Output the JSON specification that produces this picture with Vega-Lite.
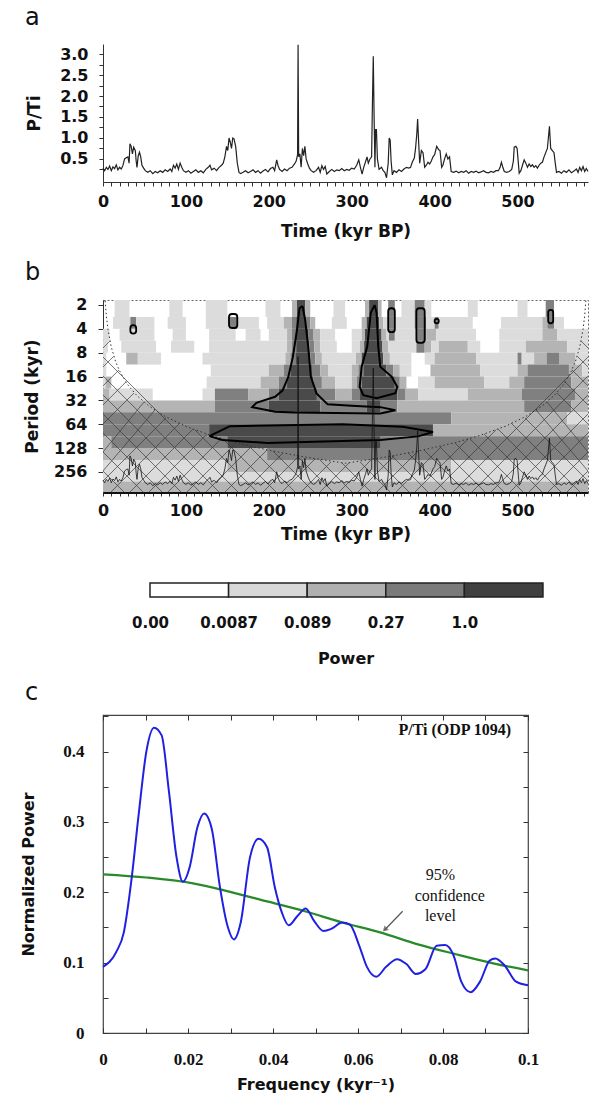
{
"$schema": "https://vega.github.io/schema/vega-lite/v6.json",
"background": "white",
"padding": {"left": 20, "top": 6, "right": 0, "bottom": 0},
"spacing": 14,
"config": {
  "view": {"stroke": null},
  "font": "DejaVu Sans",
  "axis": {"labelFont": "DejaVu Sans", "labelFontWeight": "bold", "titleFont": "DejaVu Sans", "titleFontWeight": "bold", "labelColor": "#111", "titleColor": "#111", "domainColor": "#333", "tickColor": "#333", "grid": false, "labelOverlap": false, "labelFlush": false},
  "title": {"anchor": "start", "frame": "group", "fontWeight": "normal", "fontSize": 24, "font": "DejaVu Sans", "dx": -78, "color": "#111"}
},
"datasets": {
  "pti": [
    {"t":0,"v":0.28},{"t":2,"v":0.22},{"t":4,"v":0.30},{"t":6,"v":0.25},{"t":8,"v":0.33},{"t":10,"v":0.22},{"t":12,"v":0.31},{"t":14,"v":0.27},{"t":16,"v":0.36},{"t":18,"v":0.24},{"t":20,"v":0.30},{"t":22,"v":0.26},{"t":24,"v":0.34},{"t":26,"v":0.50},{"t":28,"v":0.53},{"t":30,"v":0.55},{"t":31.5,"v":0.40},{"t":32.5,"v":0.86},{"t":34,"v":0.80},{"t":35.5,"v":0.62},{"t":37,"v":0.78},{"t":39,"v":0.70},{"t":40,"v":0.45},{"t":41,"v":0.30},{"t":42.5,"v":0.58},{"t":44,"v":0.66},{"t":45.5,"v":0.55},{"t":47,"v":0.35},{"t":49,"v":0.28},{"t":51,"v":0.22},{"t":54,"v":0.18},{"t":57,"v":0.22},{"t":60,"v":0.15},{"t":63,"v":0.20},{"t":66,"v":0.17},{"t":69,"v":0.22},{"t":72,"v":0.18},{"t":75,"v":0.24},{"t":78,"v":0.20},{"t":81,"v":0.26},{"t":83,"v":0.20},{"t":85,"v":0.35},{"t":87,"v":0.28},{"t":89,"v":0.38},{"t":91,"v":0.25},{"t":93,"v":0.40},{"t":95,"v":0.30},{"t":97,"v":0.22},{"t":100,"v":0.18},{"t":103,"v":0.22},{"t":106,"v":0.16},{"t":109,"v":0.20},{"t":112,"v":0.24},{"t":115,"v":0.18},{"t":118,"v":0.22},{"t":121,"v":0.17},{"t":124,"v":0.25},{"t":127,"v":0.30},{"t":129,"v":0.35},{"t":131,"v":0.24},{"t":134,"v":0.28},{"t":137,"v":0.22},{"t":140,"v":0.30},{"t":143,"v":0.35},{"t":145,"v":0.40},{"t":147,"v":0.55},{"t":149,"v":0.80},{"t":150.5,"v":0.70},{"t":152,"v":1.00},{"t":153.5,"v":0.90},{"t":155,"v":0.75},{"t":156.5,"v":1.00},{"t":158,"v":0.98},{"t":160,"v":0.80},{"t":162,"v":0.40},{"t":164,"v":0.18},{"t":166,"v":0.15},{"t":169,"v":0.18},{"t":172,"v":0.22},{"t":175,"v":0.17},{"t":178,"v":0.20},{"t":181,"v":0.24},{"t":184,"v":0.18},{"t":187,"v":0.22},{"t":190,"v":0.16},{"t":193,"v":0.21},{"t":196,"v":0.25},{"t":199,"v":0.19},{"t":202,"v":0.27},{"t":205,"v":0.30},{"t":207,"v":0.22},{"t":209.5,"v":0.48},{"t":211,"v":0.35},{"t":213,"v":0.25},{"t":216,"v":0.20},{"t":219,"v":0.26},{"t":222,"v":0.22},{"t":225,"v":0.28},{"t":228,"v":0.30},{"t":231,"v":0.38},{"t":233,"v":0.45},{"t":234.7,"v":0.60},{"t":235.3,"v":3.22},{"t":236,"v":0.55},{"t":237.5,"v":0.62},{"t":239,"v":0.30},{"t":240.5,"v":0.75},{"t":242,"v":0.58},{"t":243.5,"v":0.80},{"t":245,"v":0.50},{"t":247,"v":0.38},{"t":249,"v":0.28},{"t":251,"v":0.22},{"t":254,"v":0.18},{"t":257,"v":0.22},{"t":260,"v":0.30},{"t":262,"v":0.18},{"t":264,"v":0.34},{"t":266,"v":0.25},{"t":268,"v":0.32},{"t":270,"v":0.14},{"t":273,"v":0.20},{"t":276,"v":0.25},{"t":279,"v":0.20},{"t":282,"v":0.24},{"t":285,"v":0.22},{"t":288,"v":0.27},{"t":291,"v":0.22},{"t":294,"v":0.25},{"t":297,"v":0.23},{"t":300,"v":0.28},{"t":303,"v":0.26},{"t":306,"v":0.35},{"t":308.5,"v":0.48},{"t":310.5,"v":0.30},{"t":312.5,"v":0.14},{"t":314.5,"v":0.30},{"t":316.5,"v":0.42},{"t":318.5,"v":0.55},{"t":320,"v":0.40},{"t":322,"v":0.50},{"t":324,"v":0.55},{"t":325,"v":1.85},{"t":326,"v":2.95},{"t":327,"v":1.50},{"t":328,"v":0.30},{"t":328.8,"v":1.20},{"t":329.8,"v":1.20},{"t":331,"v":0.50},{"t":333,"v":0.25},{"t":336,"v":0.30},{"t":338,"v":0.22},{"t":340,"v":0.18},{"t":342,"v":0.05},{"t":344,"v":0.40},{"t":345.2,"v":1.00},{"t":346.4,"v":0.95},{"t":347.5,"v":0.45},{"t":349,"v":0.12},{"t":351,"v":0.22},{"t":354,"v":0.18},{"t":357,"v":0.24},{"t":360,"v":0.20},{"t":363,"v":0.26},{"t":366,"v":0.30},{"t":369,"v":0.28},{"t":371,"v":0.30},{"t":373,"v":0.42},{"t":375.5,"v":0.52},{"t":377,"v":0.75},{"t":378.5,"v":1.10},{"t":379.5,"v":1.45},{"t":380.5,"v":1.00},{"t":382,"v":0.40},{"t":384,"v":0.70},{"t":386,"v":0.65},{"t":388,"v":0.30},{"t":390,"v":0.35},{"t":392,"v":0.42},{"t":394,"v":0.38},{"t":396,"v":0.45},{"t":398,"v":0.55},{"t":400,"v":0.60},{"t":402.5,"v":0.80},{"t":405,"v":0.72},{"t":406.5,"v":0.70},{"t":408.5,"v":0.30},{"t":410,"v":0.35},{"t":412,"v":0.50},{"t":414,"v":0.62},{"t":416,"v":0.50},{"t":418,"v":0.55},{"t":420,"v":0.20},{"t":423,"v":0.18},{"t":426,"v":0.21},{"t":429,"v":0.17},{"t":432,"v":0.20},{"t":435,"v":0.18},{"t":438,"v":0.22},{"t":441,"v":0.16},{"t":444,"v":0.20},{"t":447,"v":0.18},{"t":450,"v":0.21},{"t":453,"v":0.17},{"t":456,"v":0.19},{"t":459,"v":0.22},{"t":462,"v":0.18},{"t":465,"v":0.17},{"t":468,"v":0.20},{"t":471,"v":0.18},{"t":474,"v":0.22},{"t":477,"v":0.22},{"t":479,"v":0.30},{"t":480.5,"v":0.42},{"t":482,"v":0.32},{"t":484,"v":0.20},{"t":487,"v":0.18},{"t":490,"v":0.20},{"t":493,"v":0.25},{"t":495,"v":0.45},{"t":496,"v":0.78},{"t":498,"v":0.80},{"t":499.5,"v":0.75},{"t":501,"v":0.40},{"t":502,"v":0.16},{"t":504,"v":0.22},{"t":506,"v":0.35},{"t":508,"v":0.48},{"t":510,"v":0.40},{"t":512,"v":0.30},{"t":514,"v":0.38},{"t":516,"v":0.32},{"t":518,"v":0.36},{"t":520,"v":0.30},{"t":522,"v":0.34},{"t":524,"v":0.28},{"t":526,"v":0.35},{"t":528,"v":0.40},{"t":530,"v":0.42},{"t":532,"v":0.55},{"t":534,"v":0.65},{"t":536,"v":0.75},{"t":538.5,"v":1.28},{"t":540,"v":0.75},{"t":542,"v":0.70},{"t":544,"v":0.65},{"t":545.5,"v":0.40},{"t":547,"v":0.18},{"t":550,"v":0.20},{"t":553,"v":0.16},{"t":556,"v":0.22},{"t":559,"v":0.18},{"t":562,"v":0.24},{"t":565,"v":0.17},{"t":568,"v":0.21},{"t":571,"v":0.26},{"t":573,"v":0.18},{"t":575,"v":0.30},{"t":577,"v":0.22},{"t":579,"v":0.32},{"t":581,"v":0.20},{"t":583,"v":0.27},{"t":585,"v":0.20}
  ],
  "rows": [
    {"r":1,"p0":1.73,"p1":2.83},{"r":2,"p0":2.83,"p1":4},{"r":3,"p0":4,"p1":5.66},{"r":4,"p0":5.66,"p1":8},{"r":5,"p0":8,"p1":11.31},{"r":6,"p0":11.31,"p1":16},{"r":7,"p0":16,"p1":22.63},{"r":8,"p0":22.63,"p1":32},{"r":9,"p0":32,"p1":45.25},{"r":10,"p0":45.25,"p1":64},{"r":11,"p0":64,"p1":90.5},{"r":12,"p0":90.5,"p1":128},{"r":13,"p0":128,"p1":181},{"r":14,"p0":181,"p1":256},{"r":15,"p0":256,"p1":338},{"r":16,"p0":338,"p1":458}
  ],
  "segs": [
    {"r":1,"a":14,"b":32,"l":1},{"r":1,"a":80,"b":96,"l":1},{"r":1,"a":124,"b":150,"l":1},{"r":1,"a":196,"b":214,"l":1},{"r":1,"a":228,"b":234,"l":2},{"r":1,"a":234,"b":244,"l":4},{"r":1,"a":244,"b":250,"l":2},{"r":1,"a":278,"b":292,"l":1},{"r":1,"a":316,"b":321,"l":2},{"r":1,"a":321,"b":332,"l":4},{"r":1,"a":332,"b":336,"l":2},{"r":1,"a":344,"b":352,"l":3},{"r":1,"a":360,"b":376,"l":1},{"r":1,"a":376,"b":388,"l":3},{"r":1,"a":388,"b":396,"l":1},{"r":1,"a":440,"b":452,"l":1},{"r":1,"a":500,"b":512,"l":1},{"r":1,"a":534,"b":544,"l":3},
    {"r":2,"a":12,"b":33,"l":1},{"r":2,"a":33,"b":40,"l":3},{"r":2,"a":40,"b":62,"l":1},{"r":2,"a":78,"b":100,"l":1},{"r":2,"a":124,"b":152,"l":1},{"r":2,"a":152,"b":162,"l":3},{"r":2,"a":162,"b":188,"l":1},{"r":2,"a":198,"b":218,"l":1},{"r":2,"a":218,"b":228,"l":2},{"r":2,"a":228,"b":233,"l":3},{"r":2,"a":233,"b":245,"l":4},{"r":2,"a":245,"b":250,"l":3},{"r":2,"a":250,"b":256,"l":2},{"r":2,"a":276,"b":294,"l":1},{"r":2,"a":312,"b":318,"l":2},{"r":2,"a":318,"b":333,"l":4},{"r":2,"a":333,"b":338,"l":2},{"r":2,"a":338,"b":344,"l":1},{"r":2,"a":344,"b":352,"l":3},{"r":2,"a":352,"b":376,"l":1},{"r":2,"a":376,"b":390,"l":3},{"r":2,"a":390,"b":400,"l":1},{"r":2,"a":400,"b":405,"l":3},{"r":2,"a":405,"b":446,"l":1},{"r":2,"a":480,"b":530,"l":1},{"r":2,"a":530,"b":536,"l":2},{"r":2,"a":536,"b":544,"l":3},{"r":2,"a":544,"b":556,"l":1},
    {"r":3,"a":0,"b":8,"l":1},{"r":3,"a":20,"b":62,"l":1},{"r":3,"a":84,"b":100,"l":1},{"r":3,"a":128,"b":160,"l":1},{"r":3,"a":172,"b":190,"l":1},{"r":3,"a":200,"b":222,"l":1},{"r":3,"a":222,"b":228,"l":2},{"r":3,"a":228,"b":232,"l":3},{"r":3,"a":232,"b":248,"l":4},{"r":3,"a":248,"b":254,"l":3},{"r":3,"a":254,"b":262,"l":2},{"r":3,"a":262,"b":280,"l":1},{"r":3,"a":300,"b":312,"l":1},{"r":3,"a":312,"b":316,"l":2},{"r":3,"a":316,"b":336,"l":4},{"r":3,"a":336,"b":342,"l":2},{"r":3,"a":342,"b":345,"l":1},{"r":3,"a":345,"b":352,"l":3},{"r":3,"a":352,"b":378,"l":1},{"r":3,"a":378,"b":390,"l":3},{"r":3,"a":390,"b":402,"l":2},{"r":3,"a":402,"b":450,"l":1},{"r":3,"a":478,"b":530,"l":1},{"r":3,"a":530,"b":548,"l":2},{"r":3,"a":548,"b":585,"l":1},
    {"r":4,"a":0,"b":6,"l":1},{"r":4,"a":22,"b":64,"l":1},{"r":4,"a":82,"b":110,"l":1},{"r":4,"a":128,"b":222,"l":1},{"r":4,"a":222,"b":228,"l":2},{"r":4,"a":228,"b":233,"l":3},{"r":4,"a":233,"b":249,"l":4},{"r":4,"a":249,"b":255,"l":3},{"r":4,"a":255,"b":262,"l":2},{"r":4,"a":262,"b":282,"l":1},{"r":4,"a":300,"b":310,"l":1},{"r":4,"a":310,"b":315,"l":2},{"r":4,"a":315,"b":337,"l":4},{"r":4,"a":337,"b":344,"l":2},{"r":4,"a":344,"b":378,"l":1},{"r":4,"a":378,"b":388,"l":3},{"r":4,"a":388,"b":396,"l":2},{"r":4,"a":396,"b":405,"l":1},{"r":4,"a":405,"b":440,"l":2},{"r":4,"a":440,"b":455,"l":1},{"r":4,"a":478,"b":510,"l":1},{"r":4,"a":510,"b":560,"l":2},{"r":4,"a":560,"b":585,"l":1},
    {"r":5,"a":0,"b":4,"l":1},{"r":5,"a":28,"b":42,"l":2},{"r":5,"a":42,"b":70,"l":1},{"r":5,"a":120,"b":220,"l":1},{"r":5,"a":220,"b":226,"l":2},{"r":5,"a":226,"b":232,"l":3},{"r":5,"a":232,"b":250,"l":4},{"r":5,"a":250,"b":256,"l":3},{"r":5,"a":256,"b":264,"l":2},{"r":5,"a":264,"b":305,"l":1},{"r":5,"a":305,"b":312,"l":2},{"r":5,"a":312,"b":338,"l":4},{"r":5,"a":338,"b":346,"l":2},{"r":5,"a":346,"b":372,"l":1},{"r":5,"a":388,"b":400,"l":1},{"r":5,"a":400,"b":450,"l":2},{"r":5,"a":450,"b":500,"l":1},{"r":5,"a":500,"b":505,"l":3},{"r":5,"a":505,"b":520,"l":1},{"r":5,"a":520,"b":535,"l":2},{"r":5,"a":535,"b":550,"l":3},{"r":5,"a":550,"b":570,"l":2},{"r":5,"a":570,"b":585,"l":1},
    {"r":6,"a":0,"b":4,"l":1},{"r":6,"a":130,"b":200,"l":1},{"r":6,"a":200,"b":218,"l":2},{"r":6,"a":218,"b":226,"l":3},{"r":6,"a":226,"b":252,"l":4},{"r":6,"a":252,"b":262,"l":3},{"r":6,"a":262,"b":272,"l":2},{"r":6,"a":272,"b":300,"l":1},{"r":6,"a":300,"b":308,"l":2},{"r":6,"a":308,"b":314,"l":3},{"r":6,"a":314,"b":342,"l":4},{"r":6,"a":342,"b":350,"l":3},{"r":6,"a":350,"b":358,"l":2},{"r":6,"a":358,"b":372,"l":1},{"r":6,"a":395,"b":455,"l":2},{"r":6,"a":455,"b":500,"l":1},{"r":6,"a":500,"b":512,"l":2},{"r":6,"a":512,"b":562,"l":3},{"r":6,"a":562,"b":578,"l":2},{"r":6,"a":578,"b":585,"l":1},
    {"r":7,"a":0,"b":3,"l":1},{"r":7,"a":3,"b":10,"l":2},{"r":7,"a":125,"b":190,"l":1},{"r":7,"a":190,"b":212,"l":2},{"r":7,"a":212,"b":222,"l":3},{"r":7,"a":222,"b":254,"l":4},{"r":7,"a":254,"b":264,"l":3},{"r":7,"a":264,"b":280,"l":2},{"r":7,"a":280,"b":300,"l":1},{"r":7,"a":300,"b":306,"l":2},{"r":7,"a":306,"b":312,"l":3},{"r":7,"a":312,"b":352,"l":4},{"r":7,"a":352,"b":358,"l":3},{"r":7,"a":358,"b":366,"l":2},{"r":7,"a":380,"b":400,"l":1},{"r":7,"a":400,"b":460,"l":2},{"r":7,"a":460,"b":490,"l":1},{"r":7,"a":490,"b":508,"l":2},{"r":7,"a":508,"b":565,"l":3},{"r":7,"a":565,"b":585,"l":2},
    {"r":8,"a":0,"b":8,"l":2},{"r":8,"a":8,"b":60,"l":1},{"r":8,"a":120,"b":135,"l":1},{"r":8,"a":135,"b":175,"l":3},{"r":8,"a":175,"b":200,"l":2},{"r":8,"a":200,"b":212,"l":3},{"r":8,"a":212,"b":258,"l":4},{"r":8,"a":258,"b":280,"l":3},{"r":8,"a":280,"b":300,"l":2},{"r":8,"a":300,"b":310,"l":3},{"r":8,"a":310,"b":355,"l":4},{"r":8,"a":355,"b":365,"l":3},{"r":8,"a":365,"b":380,"l":2},{"r":8,"a":380,"b":440,"l":1},{"r":8,"a":440,"b":505,"l":2},{"r":8,"a":505,"b":570,"l":3},{"r":8,"a":570,"b":585,"l":2},
    {"r":9,"a":0,"b":135,"l":2},{"r":9,"a":135,"b":200,"l":3},{"r":9,"a":200,"b":262,"l":4},{"r":9,"a":262,"b":318,"l":3},{"r":9,"a":318,"b":335,"l":4},{"r":9,"a":335,"b":355,"l":3},{"r":9,"a":355,"b":508,"l":2},{"r":9,"a":508,"b":565,"l":3},{"r":9,"a":565,"b":585,"l":2},
    {"r":10,"a":0,"b":420,"l":3},{"r":10,"a":420,"b":560,"l":2},{"r":10,"a":560,"b":585,"l":1},
    {"r":11,"a":0,"b":128,"l":3},{"r":11,"a":128,"b":398,"l":4},{"r":11,"a":398,"b":585,"l":2},
    {"r":12,"a":0,"b":10,"l":2},{"r":12,"a":10,"b":150,"l":3},{"r":12,"a":150,"b":335,"l":4},{"r":12,"a":335,"b":585,"l":3},
    {"r":13,"a":0,"b":198,"l":2},{"r":13,"a":198,"b":585,"l":3},
    {"r":14,"a":0,"b":150,"l":1},{"r":14,"a":150,"b":420,"l":2},{"r":14,"a":420,"b":585,"l":1},
    {"r":15,"a":0,"b":585,"l":1},
    {"r":16,"a":0,"b":585,"l":2}
  ],
  "hatch": [
    {"t1":0,"p1":248.6,"t2":25.3,"p2":457.6},{"t1":0,"p1":143.2,"t2":48.2,"p2":457.6},{"t1":0,"p1":82.4,"t2":71.2,"p2":457.6},{"t1":0,"p1":47.5,"t2":94.1,"p2":457.6},{"t1":0,"p1":27.3,"t2":117,"p2":457.6},{"t1":0,"p1":15.7,"t2":139.9,"p2":457.6},{"t1":0,"p1":9.06,"t2":162.8,"p2":457.6},{"t1":111,"p1":75.5,"t2":185.8,"p2":457.6},{"t1":144.7,"p1":98.1,"t2":208.7,"p2":457.6},{"t1":176.1,"p1":120.3,"t2":231.6,"p2":457.6},{"t1":205,"p1":139.1,"t2":254.5,"p2":457.6},{"t1":233.4,"p1":158.4,"t2":277.4,"p2":457.6},{"t1":261.7,"p1":180.6,"t2":300.3,"p2":457.6},{"t1":288.3,"p1":197.1,"t2":323.3,"p2":457.6},{"t1":310,"p1":191.3,"t2":346.2,"p2":457.6},{"t1":329.3,"p1":175.4,"t2":369.1,"p2":457.6},{"t1":348.6,"p1":160.8,"t2":392,"p2":457.6},{"t1":367.9,"p1":147.3,"t2":414.9,"p2":457.6},{"t1":387.2,"p1":135.1,"t2":437.8,"p2":457.6},{"t1":406.5,"p1":123.8,"t2":460.8,"p2":457.6},{"t1":424.6,"p1":110.2,"t2":483.7,"p2":457.6},{"t1":442.7,"p1":98.1,"t2":506.6,"p2":457.6},{"t1":459.6,"p1":84.9,"t2":529.5,"p2":457.6},{"t1":476.4,"p1":73.4,"t2":552.4,"p2":457.6},{"t1":492.1,"p1":61.6,"t2":575.4,"p2":457.6},{"t1":509,"p1":53.3,"t2":585,"p2":332.5},{"t1":522.3,"p1":42.2,"t2":585,"p2":248.6},{"t1":535.5,"p1":33.5,"t2":585,"p2":143.2},{"t1":547.6,"p1":25.8,"t2":585,"p2":63.5},{"t1":557.3,"p1":18.7,"t2":585,"p2":36.5},{"t1":565.7,"p1":13.2,"t2":585,"p2":21.0},{"t1":572.3,"p1":8.93,"t2":585,"p2":12.1},{"t1":576.6,"p1":5.69,"t2":585,"p2":6.98},
    {"t1":585,"p1":248.6,"t2":559.7,"p2":457.6},{"t1":585,"p1":143.2,"t2":536.8,"p2":457.6},{"t1":585,"p1":82.4,"t2":513.8,"p2":457.6},{"t1":585,"p1":47.5,"t2":490.9,"p2":457.6},{"t1":585,"p1":27.3,"t2":468,"p2":457.6},{"t1":585,"p1":15.7,"t2":445.1,"p2":457.6},{"t1":585,"p1":9.06,"t2":422.2,"p2":457.6},{"t1":474,"p1":75.5,"t2":399.2,"p2":457.6},{"t1":440.3,"p1":98.1,"t2":376.3,"p2":457.6},{"t1":408.9,"p1":120.3,"t2":353.4,"p2":457.6},{"t1":380,"p1":139.1,"t2":330.5,"p2":457.6},{"t1":351.6,"p1":158.4,"t2":307.6,"p2":457.6},{"t1":323.3,"p1":180.6,"t2":284.7,"p2":457.6},{"t1":296.7,"p1":197.1,"t2":261.7,"p2":457.6},{"t1":275,"p1":191.3,"t2":238.8,"p2":457.6},{"t1":255.7,"p1":175.4,"t2":215.9,"p2":457.6},{"t1":236.4,"p1":160.8,"t2":193,"p2":457.6},{"t1":217.1,"p1":147.3,"t2":170.1,"p2":457.6},{"t1":197.8,"p1":135.1,"t2":147.2,"p2":457.6},{"t1":178.5,"p1":123.8,"t2":124.2,"p2":457.6},{"t1":160.4,"p1":110.2,"t2":101.3,"p2":457.6},{"t1":142.3,"p1":98.1,"t2":78.4,"p2":457.6},{"t1":125.4,"p1":84.9,"t2":55.5,"p2":457.6},{"t1":108.6,"p1":73.4,"t2":32.6,"p2":457.6},{"t1":92.9,"p1":61.6,"t2":9.6,"p2":457.6},{"t1":76,"p1":53.3,"t2":0,"p2":332.5},{"t1":62.7,"p1":42.2,"t2":0,"p2":248.6},{"t1":49.5,"p1":33.5,"t2":0,"p2":143.2},{"t1":37.4,"p1":25.8,"t2":0,"p2":63.5},{"t1":27.7,"p1":18.7,"t2":0,"p2":36.5},{"t1":19.3,"p1":13.2,"t2":0,"p2":21.0},{"t1":12.7,"p1":8.93,"t2":0,"p2":12.1},{"t1":8.4,"p1":5.69,"t2":0,"p2":6.98}
  ],
  "coi": [
    {"t":2.6,"p":1.77},{"t":4,"p":2.72},{"t":6,"p":4.08},{"t":10,"p":6.8},{"t":15,"p":10.2},{"t":20,"p":13.6},{"t":30,"p":20.4},{"t":40,"p":27.2},{"t":55,"p":37.4},{"t":75,"p":51},{"t":100,"p":68},{"t":130,"p":88.4},{"t":160,"p":108.8},{"t":200,"p":136},{"t":240,"p":163.2},{"t":292.5,"p":198.9},{"t":345,"p":163.2},{"t":385,"p":136},{"t":425,"p":108.8},{"t":455,"p":88.4},{"t":485,"p":68},{"t":510,"p":51},{"t":530,"p":37.4},{"t":545,"p":27.2},{"t":555,"p":20.4},{"t":565,"p":13.6},{"t":570,"p":10.2},{"t":575,"p":6.8},{"t":579,"p":4.08},{"t":581,"p":2.72},{"t":582.4,"p":1.77}
  ],
  "cont": [
    {"id":1,"o":1,"t":240.7,"p":2.06},{"id":1,"o":2,"t":243.9,"p":3.1},{"id":1,"o":3,"t":247.5,"p":6.7},{"id":1,"o":4,"t":250.7,"p":16.1},{"id":1,"o":5,"t":257.5,"p":26.1},{"id":1,"o":6,"t":271,"p":35.9},{"id":1,"o":7,"t":300,"p":37.5},{"id":1,"o":8,"t":334.5,"p":38.9},{"id":1,"o":9,"t":352.7,"p":42.5},{"id":1,"o":10,"t":334.5,"p":46.8},{"id":1,"o":11,"t":280,"p":46},{"id":1,"o":12,"t":230,"p":45.5},{"id":1,"o":13,"t":207.6,"p":44.6},{"id":1,"o":14,"t":180,"p":38.9},{"id":1,"o":15,"t":185,"p":34.4},{"id":1,"o":16,"t":207.6,"p":28.8},{"id":1,"o":17,"t":216.7,"p":23.9},{"id":1,"o":18,"t":223.5,"p":16.1},{"id":1,"o":19,"t":229,"p":9.1},{"id":1,"o":20,"t":234,"p":4.1},{"id":1,"o":21,"t":237,"p":2.2},{"id":1,"o":22,"t":240.7,"p":2.06},
    {"id":2,"o":1,"t":327.7,"p":2.0},{"id":2,"o":2,"t":330,"p":2.5},{"id":2,"o":3,"t":332,"p":6.7},{"id":2,"o":4,"t":334.5,"p":12},{"id":2,"o":5,"t":348,"p":16},{"id":2,"o":6,"t":355,"p":21.6},{"id":2,"o":7,"t":352.7,"p":26},{"id":2,"o":8,"t":330,"p":30},{"id":2,"o":9,"t":314,"p":27.5},{"id":2,"o":10,"t":309.6,"p":21.6},{"id":2,"o":11,"t":312,"p":12},{"id":2,"o":12,"t":318.7,"p":6.7},{"id":2,"o":13,"t":323,"p":2.5},{"id":2,"o":14,"t":327.7,"p":2.0},
    {"id":3,"o":1,"t":128.3,"p":90.4},{"id":3,"o":2,"t":153,"p":67.7},{"id":3,"o":3,"t":289,"p":64},{"id":3,"o":4,"t":361.7,"p":69},{"id":3,"o":5,"t":398,"p":80},{"id":3,"o":6,"t":380,"p":91},{"id":3,"o":7,"t":334.5,"p":101},{"id":3,"o":8,"t":198.5,"p":110},{"id":3,"o":9,"t":144,"p":101},{"id":3,"o":10,"t":128.3,"p":90.4}
  ],
  "spec": [
    {"f":0,"v":0.094},{"f":0.0031,"v":0.115},{"f":0.0049,"v":0.143},{"f":0.0067,"v":0.218},{"f":0.0084,"v":0.311},{"f":0.0102,"v":0.40},{"f":0.012,"v":0.434},{"f":0.0138,"v":0.423},{"f":0.0155,"v":0.344},{"f":0.0173,"v":0.25},{"f":0.0188,"v":0.215},{"f":0.0204,"v":0.236},{"f":0.0222,"v":0.292},{"f":0.0238,"v":0.312},{"f":0.0256,"v":0.29},{"f":0.0275,"v":0.208},{"f":0.0293,"v":0.152},{"f":0.0308,"v":0.133},{"f":0.0324,"v":0.157},{"f":0.0346,"v":0.25},{"f":0.0366,"v":0.276},{"f":0.0386,"v":0.264},{"f":0.0404,"v":0.208},{"f":0.0421,"v":0.171},{"f":0.0437,"v":0.153},{"f":0.0457,"v":0.166},{"f":0.0477,"v":0.177},{"f":0.0497,"v":0.159},{"f":0.0519,"v":0.145},{"f":0.0537,"v":0.148},{"f":0.0563,"v":0.157},{"f":0.0581,"v":0.154},{"f":0.0603,"v":0.124},{"f":0.0621,"v":0.094},{"f":0.0643,"v":0.080},{"f":0.0666,"v":0.094},{"f":0.0692,"v":0.105},{"f":0.0714,"v":0.098},{"f":0.0736,"v":0.084},{"f":0.0759,"v":0.091},{"f":0.0785,"v":0.124},{"f":0.0805,"v":0.125},{"f":0.0825,"v":0.11},{"f":0.0843,"v":0.073},{"f":0.0865,"v":0.058},{"f":0.0887,"v":0.073},{"f":0.091,"v":0.103},{"f":0.0923,"v":0.106},{"f":0.0945,"v":0.096},{"f":0.0972,"v":0.073},{"f":0.1,"v":0.068}
  ],
  "conf": [
    {"f":0,"v":0.2255},{"f":0.0102,"v":0.221},{"f":0.0209,"v":0.213},{"f":0.0297,"v":0.201},{"f":0.0386,"v":0.187},{"f":0.0475,"v":0.173},{"f":0.0563,"v":0.157},{"f":0.0652,"v":0.143},{"f":0.0741,"v":0.126},{"f":0.083,"v":0.112},{"f":0.0918,"v":0.099},{"f":0.1,"v":0.089}
  ]
},
"vconcat": [
  {
    "width": 485, "height": 138,
    "title": {"text": "a", "offset": 12},
    "data": {"name": "pti"},
    "mark": {"type": "line", "color": "#222", "strokeWidth": 1.2},
    "encoding": {
      "x": {"field": "t", "type": "quantitative", "scale": {"domain": [0, 585], "nice": false, "zero": false},
        "axis": {"values": [0,10,20,30,40,50,60,70,80,90,100,110,120,130,140,150,160,170,180,190,200,210,220,230,240,250,260,270,280,290,300,310,320,330,340,350,360,370,380,390,400,410,420,430,440,450,460,470,480,490,500,510,520,530,540,550,560,570,580], "labelExpr": "datum.value % 100 == 0 ? datum.label : ''", "title": "Time (kyr BP)", "tickSize": 4, "labelPadding": 7, "titlePadding": 14, "labelFontSize": 16, "titleFontSize": 17}},
      "y": {"field": "v", "type": "quantitative", "scale": {"domain": [-0.05, 3.24], "nice": false, "zero": false},
        "axis": {"values": [0.25,0.5,0.75,1,1.25,1.5,1.75,2,2.25,2.5,2.75,3], "format": ".1f", "labelExpr": "round(datum.value*4) % 2 == 0 ? datum.label : ''", "title": "P/Ti", "tickSize": 4, "labelPadding": 11, "titlePadding": 16, "labelFontSize": 16, "titleFontSize": 17}}
    }
  },
  {
    "width": 485, "height": 192,
    "title": {"text": ["", "b"], "offset": 12, "lineHeight": 7},
    "view": {"stroke": "#666", "strokeDash": [2, 2]},
    "layer": [
      {
        "data": {"name": "segs"},
        "transform": [{"lookup": "r", "from": {"data": {"name": "rows"}, "key": "r", "fields": ["p0", "p1"]}}],
        "mark": {"type": "rect"},
        "encoding": {
          "x": {"field": "a", "type": "quantitative", "scale": {"domain": [0, 585], "nice": false, "zero": false},
            "axis": {"title": "Time (kyr BP)", "values": [0,10,20,30,40,50,60,70,80,90,100,110,120,130,140,150,160,170,180,190,200,210,220,230,240,250,260,270,280,290,300,310,320,330,340,350,360,370,380,390,400,410,420,430,440,450,460,470,480,490,500,510,520,530,540,550,560,570,580], "labelExpr": "datum.value % 100 == 0 ? datum.label : ''", "tickSize": 4, "labelPadding": 6, "titlePadding": 8, "labelFontSize": 16, "titleFontSize": 17, "domainWidth": 3, "domainColor": "#111"}},
          "x2": {"field": "b"},
          "y": {"field": "p0", "type": "quantitative", "scale": {"type": "log", "base": 2, "domain": [1.73, 458], "reverse": true, "nice": false},
            "axis": {"title": "Period (kyr)", "values": [2,4,8,16,32,64,128,256], "tickSize": 5, "labelPadding": 11, "titlePadding": 12, "labelFontSize": 16, "titleFontSize": 17}},
          "y2": {"field": "p1"},
          "color": {"field": "l", "type": "ordinal", "scale": {"domain": [0,1,2,3,4], "range": ["#ffffff","#dcdcdc","#b4b4b4","#808080","#4a4a4a"]}, "legend": null}
        }
      },
      {
        "data": {"name": "hatch"},
        "mark": {"type": "rule", "color": "#3a3a3a", "strokeWidth": 0.7},
        "encoding": {
          "x": {"field": "t1", "type": "quantitative", "scale": {"domain": [0, 585], "nice": false, "zero": false}, "axis": null},
          "x2": {"field": "t2"},
          "y": {"field": "p1", "type": "quantitative", "scale": {"type": "log", "base": 2, "domain": [1.73, 458], "reverse": true, "nice": false}, "axis": null},
          "y2": {"field": "p2"}
        }
      },
      {
        "data": {"name": "coi"},
        "mark": {"type": "line", "color": "#333", "strokeWidth": 1, "strokeDash": [1.5, 2.5]},
        "encoding": {
          "x": {"field": "t", "type": "quantitative", "scale": {"domain": [0, 585], "nice": false, "zero": false}, "axis": null},
          "y": {"field": "p", "type": "quantitative", "scale": {"type": "log", "base": 2, "domain": [1.73, 458], "reverse": true, "nice": false}, "axis": null}
        }
      },
      {
        "data": {"name": "cont"},
        "mark": {"type": "line", "color": "#000", "strokeWidth": 2},
        "encoding": {
          "x": {"field": "t", "type": "quantitative", "scale": {"domain": [0, 585], "nice": false, "zero": false}, "axis": null},
          "y": {"field": "p", "type": "quantitative", "scale": {"type": "log", "base": 2, "domain": [1.73, 458], "reverse": true, "nice": false}, "axis": null},
          "detail": {"field": "id"},
          "order": {"field": "o"}
        }
      },
      {
        "data": {"values": [{"t0":33,"t1":40,"q0":3.6,"q1":4.6},{"t0":152,"t1":162,"q0":2.6,"q1":3.9},{"t0":344,"t1":352,"q0":2.2,"q1":4.4},{"t0":378,"t1":388,"q0":2.2,"q1":6.0},{"t0":400,"t1":405,"q0":3.0,"q1":3.4},{"t0":537,"t1":543,"q0":2.3,"q1":3.4}]},
        "mark": {"type": "rect", "fill": null, "stroke": "#000", "strokeWidth": 1.8, "cornerRadius": 3},
        "encoding": {
          "x": {"field": "t0", "type": "quantitative", "scale": {"domain": [0, 585], "nice": false, "zero": false}, "axis": null},
          "x2": {"field": "t1"},
          "y": {"field": "q0", "type": "quantitative", "scale": {"type": "log", "base": 2, "domain": [1.73, 458], "reverse": true, "nice": false}, "axis": null},
          "y2": {"field": "q1"}
        }
      },
      {
        "data": {"name": "pti"},
        "mark": {"type": "line", "color": "#111", "strokeWidth": 0.8},
        "encoding": {
          "x": {"field": "t", "type": "quantitative", "scale": {"domain": [0, 585], "nice": false, "zero": false}, "axis": null},
          "y": {"field": "v", "type": "quantitative", "scale": {"domain": [0, 4.57], "nice": false, "zero": false}, "axis": null}
        }
      }
    ],
    "resolve": {"scale": {"y": "independent"}, "axis": {"x": "independent", "y": "independent"}}
  },
  {
    "width": 485, "height": 40,
    "data": {"values": [{"i":0,"i2":1,"lv":0},{"i":1,"i2":2,"lv":1},{"i":2,"i2":3,"lv":2},{"i":3,"i2":4,"lv":3},{"i":4,"i2":5,"lv":4}]},
    "mark": {"type": "rect", "stroke": "#222", "strokeWidth": 1.5},
    "encoding": {
      "x": {"field": "i", "type": "quantitative", "scale": {"domain": [-0.598, 5.573], "nice": false, "zero": false},
        "axis": {"values": [0,1,2,3,4], "labelExpr": "['0.00','0.0087','0.089','0.27','1.0'][datum.value]", "domain": false, "ticks": false, "title": "Power", "labelPadding": 18, "titlePadding": 20, "labelFontSize": 15, "titleFontSize": 16}},
      "x2": {"field": "i2"},
      "y": {"datum": 0, "type": "quantitative", "scale": {"domain": [0, 2.857], "nice": false, "zero": false}, "axis": null},
      "y2": {"datum": 1},
      "color": {"field": "lv", "type": "ordinal", "scale": {"domain": [0,1,2,3,4], "range": ["#ffffff","#d8d8d8","#b0b0b0","#7a7a7a","#404040"]}, "legend": null}
    }
  },
  {
    "width": 425, "height": 318,
    "title": {"text": "c", "offset": 2},
    "view": {"stroke": "#444", "strokeWidth": 1.2},
    "layer": [
      {
        "data": {"name": "conf"},
        "mark": {"type": "line", "color": "#2a8a2a", "strokeWidth": 2.2, "interpolate": "monotone"},
        "encoding": {
          "x": {"field": "f", "type": "quantitative", "scale": {"domain": [0, 0.1], "nice": false, "zero": false},
            "axis": {"values": [0,0.01,0.02,0.03,0.04,0.05,0.06,0.07,0.08,0.09,0.1], "labelExpr": "round(datum.value*100) % 2 == 0 ? (datum.value == 0 ? '0' : (datum.value > 0.099 ? '0.1' : format(datum.value, '.2f'))) : ''", "title": "Frequency (kyr⁻¹)", "tickSize": -5, "labelPadding": 23, "titlePadding": 9, "labelFont": "Liberation Serif", "labelFontSize": 17, "titleFontSize": 16, "domain": false}},
          "y": {"field": "v", "type": "quantitative", "scale": {"domain": [0, 0.452], "nice": false, "zero": false},
            "axis": {"values": [0,0.05,0.1,0.15,0.2,0.25,0.3,0.35,0.4,0.45], "labelExpr": "round(datum.value*100) % 10 == 0 ? (datum.value == 0 ? '0' : format(datum.value, '.1f')) : ''", "title": "Normalized Power", "tickSize": -5, "labelPadding": 24, "titlePadding": 26, "labelFont": "Liberation Serif", "labelFontSize": 17, "titleFontSize": 16, "domain": false}}
        }
      },
      {
        "data": {"name": "spec"},
        "mark": {"type": "line", "color": "#2020e0", "strokeWidth": 2, "interpolate": "monotone"},
        "encoding": {
          "x": {"field": "f", "type": "quantitative", "scale": {"domain": [0, 0.1], "nice": false, "zero": false}, "axis": null},
          "y": {"field": "v", "type": "quantitative", "scale": {"domain": [0, 0.452], "nice": false, "zero": false}, "axis": null}
        }
      },
      {
        "data": {"values": [{"f": 0.096, "v": 0.431, "s": "P/Ti (ODP 1094)"}]},
        "mark": {"type": "text", "align": "right", "baseline": "middle", "font": "Liberation Serif", "fontWeight": "bold", "fontSize": 16, "color": "#111"},
        "encoding": {
          "x": {"field": "f", "type": "quantitative", "axis": null},
          "y": {"field": "v", "type": "quantitative", "axis": null},
          "text": {"field": "s"}
        }
      },
      {
        "data": {"values": [{"f": 0.0794, "v": 0.2246, "s": "95%"}, {"f": 0.0816, "v": 0.195, "s": "confidence"}, {"f": 0.0794, "v": 0.167, "s": "level"}]},
        "mark": {"type": "text", "align": "center", "baseline": "middle", "font": "Liberation Serif", "fontSize": 16, "color": "#111"},
        "encoding": {
          "x": {"field": "f", "type": "quantitative", "axis": null},
          "y": {"field": "v", "type": "quantitative", "axis": null},
          "text": {"field": "s"}
        }
      },
      {
        "data": {"values": [{"f": 0.0705, "v": 0.173, "f2": 0.0662, "v2": 0.146}]},
        "mark": {"type": "rule", "color": "#555", "strokeWidth": 1.2},
        "encoding": {
          "x": {"field": "f", "type": "quantitative", "axis": null},
          "y": {"field": "v", "type": "quantitative", "axis": null},
          "x2": {"field": "f2"},
          "y2": {"field": "v2"}
        }
      },
      {
        "data": {"values": [{"f": 0.0663, "v": 0.147}]},
        "mark": {"type": "point", "shape": "triangle-down", "angle": 45, "size": 40, "filled": true, "color": "#555"},
        "encoding": {
          "x": {"field": "f", "type": "quantitative", "axis": null},
          "y": {"field": "v", "type": "quantitative", "axis": null}
        }
      },
      {
        "data": {"name": "conf"},
        "mark": {"type": "line", "opacity": 0},
        "encoding": {
          "x": {"field": "f", "type": "quantitative", "axis": {"orient": "top", "values": [0,0.01,0.02,0.03,0.04,0.05,0.06,0.07,0.08,0.09,0.1], "labels": false, "title": null, "tickSize": -5, "domain": false}},
          "y": {"field": "v", "type": "quantitative", "axis": {"orient": "right", "values": [0,0.05,0.1,0.15,0.2,0.25,0.3,0.35,0.4,0.45], "labels": false, "title": null, "tickSize": -5, "domain": false}}
        }
      }
    ],
    "resolve": {"axis": {"x": "independent", "y": "independent"}}
  }
],
"resolve": {"scale": {"x": "independent", "y": "independent", "color": "independent"}}
}
